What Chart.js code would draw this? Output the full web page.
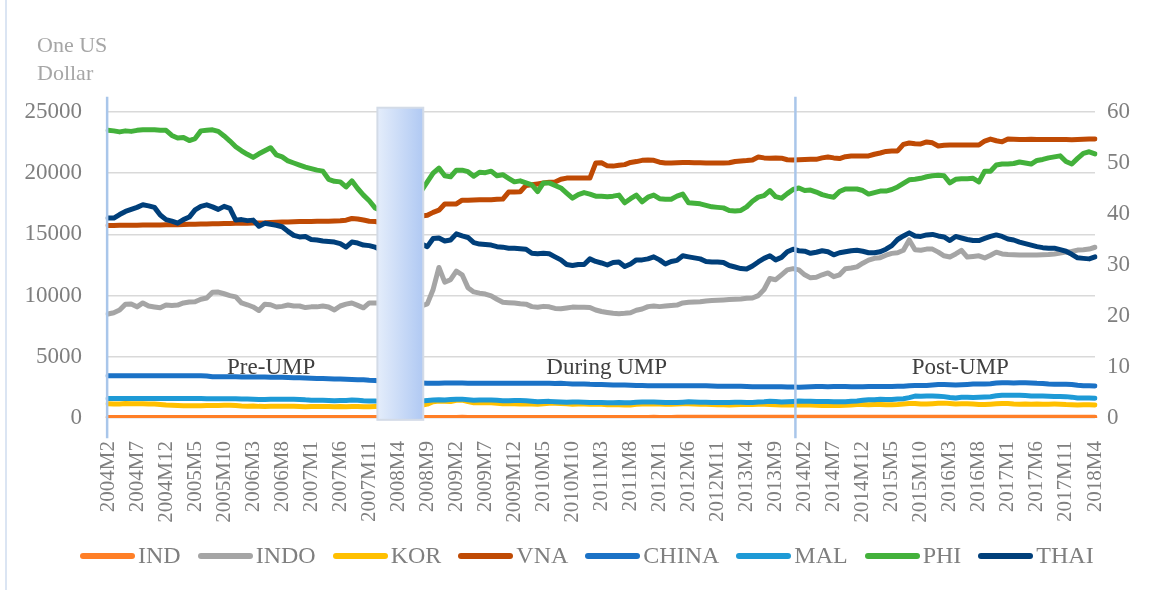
<!DOCTYPE html>
<html>
<head>
<meta charset="utf-8">
<script src="https://cdn.jsdelivr.net/npm/chart.js@4.4.1/dist/chart.umd.min.js"></script>
<style>
    body { margin: 0; background: #fff; }
    #wrap { position: relative; width: 1154px; height: 590px; overflow: hidden; }
    #frame { position: absolute; left: 5px; top: 0; width: 2px; height: 590px; background: #dbe5f3; }
    #unit { position: absolute; left: 37px; top: 31px; font: 22px "Liberation Serif", serif; line-height: 28px; color: #a6a6a6; }
    #legend { position: absolute; left: 80px; top: 542px; display: flex; align-items: center; font: 24px "Liberation Serif", serif; color: #7f7f7f; }
    .item { display: flex; align-items: center; margin-right: 17px; }
    .swatch { width: 55px; height: 6px; border-radius: 3px; margin-right: 3px; }
</style>
</head>
<body>
<div id="wrap">
    <canvas id="myChart" width="1154" height="590"></canvas>
    <div id="frame"></div>
    <div id="unit">One US<br>Dollar</div>
    <div id="legend"></div>
</div>
<script>
// months 2004M2 .. 2018M4
let months = [];
for (let y = 2004; y <= 2018; y++) {
    for (let m = 1; m <= 12; m++) {
        if ((y === 2004 && m < 2) || (y === 2018 && m > 4)) continue;
        months.push(y + 'M' + m);
    }
}

let leftTicks = [0, 5000, 10000, 15000, 20000, 25000];
let rightTicks = [0, 10, 20, 30, 40, 50, 60];

// left axis series
let IND = [
    45.4, 45.0, 43.8, 45.1, 45.5, 46.0, 46.3, 46.1, 45.8, 45.1, 43.7,
    43.6, 43.7, 43.7, 43.7, 43.5, 43.6, 43.5, 43.6, 43.9, 44.8, 45.7, 45.6,
    44.4, 44.3, 44.5, 44.9, 45.4, 46.0, 46.5, 46.5, 46.1, 45.5, 44.9, 44.5,
    44.3, 44.2, 44.0, 42.1, 40.8, 40.8, 40.4, 40.8, 40.0, 39.4, 39.4, 39.4,
    39.4, 39.7, 40.3, 40.0, 42.1, 42.8, 42.8, 42.9, 45.6, 48.7, 49.0, 48.6,
    48.8, 49.3, 51.2, 50.0, 48.5, 47.8, 48.5, 48.3, 48.4, 46.7, 46.6, 46.6,
    45.9, 46.3, 45.5, 44.5, 45.8, 46.6, 46.8, 46.6, 45.9, 44.4, 45.0, 45.2,
    45.4, 45.4, 44.9, 44.4, 44.9, 44.8, 44.4, 45.3, 47.6, 49.3, 50.8, 52.7,
    50.4, 49.2, 50.3, 51.8, 54.5, 56.0, 55.5, 55.6, 54.6, 53.0, 54.8, 54.6,
    54.0, 53.7, 54.4, 54.4, 54.9, 58.4, 60.0, 63.2, 63.4, 61.6, 62.6, 61.9,
    62.1, 62.3, 60.8, 60.4, 59.3, 59.7, 60.1, 60.9, 60.9, 61.3, 61.7, 62.7,
    62.2, 62.0, 62.4, 62.8, 63.8, 63.9, 63.6, 65.1, 66.2, 65.1, 66.1, 66.6,
    67.3, 68.2, 67.1, 66.5, 67.0, 67.3, 67.2, 66.9, 66.7, 66.7, 67.6, 67.9,
    68.1, 67.1, 65.9, 64.5, 64.4, 64.4, 64.4, 64.0, 64.4, 65.1, 64.9, 64.2,
    63.6, 64.4, 65.0, 65.6
];
let INDO = [
    8500, 8600, 8820, 9300, 9310, 9080, 9400, 9150, 9070, 9000, 9230,
    9200, 9230, 9400, 9480, 9500, 9700, 9800, 10280, 10290, 10150, 10000, 9900,
    9400, 9250, 9070, 8780, 9300, 9250, 9070, 9120, 9230, 9150, 9150, 9020,
    9080, 9080, 9150, 9070, 8830, 9150, 9300, 9400, 9200, 9000, 9400, 9400,
    9400, 9250, 9200, 9230, 9300, 9230, 9150, 9150, 9320, 10500, 12300, 11100,
    11300, 12000, 11700, 10650, 10300, 10200, 10130, 9980, 9700, 9450, 9420, 9400,
    9330, 9300, 9100, 9050, 9120, 9080, 8950, 8920, 8990, 9060, 9040, 9050,
    9030, 8820, 8700, 8620, 8550, 8520, 8550, 8600, 8800, 8900, 9100, 9150,
    9100, 9150, 9200, 9230, 9400, 9450, 9480, 9500, 9560, 9600, 9620, 9650,
    9680, 9700, 9730, 9780, 9800, 10000, 10500, 11400, 11300, 11700, 12100, 12200,
    12100, 11700, 11450, 11500, 11700, 11850, 11550, 11700, 12200, 12250, 12350, 12650,
    12900, 13050, 13100, 13300, 13450, 13500, 13700, 14550, 13750, 13700, 13800, 13800,
    13550, 13250, 13150, 13400, 13700, 13150, 13200, 13250, 13080, 13300, 13550, 13400,
    13350, 13330, 13320, 13320, 13320, 13320, 13330, 13350, 13400, 13480, 13550, 13600,
    13720, 13750, 13800, 13950
];
let KOR = [
    1170, 1150, 1150, 1175, 1160, 1170, 1160, 1150, 1140, 1100, 1055,
    1040, 1020, 1010, 1010, 1000, 1010, 1030, 1020, 1030, 1040, 1040, 1020,
    985, 970, 975, 950, 945, 960, 955, 960, 950, 950, 935, 925,
    935, 940, 945, 930, 925, 930, 920, 930, 935, 915, 915, 930,
    945, 945, 990, 985, 1040, 1030, 1020, 1040, 1130, 1330, 1390, 1360,
    1350, 1450, 1460, 1340, 1250, 1260, 1240, 1240, 1210, 1170, 1165, 1165,
    1140, 1160, 1135, 1115, 1165, 1210, 1200, 1180, 1160, 1125, 1140, 1140,
    1115, 1120, 1120, 1085, 1085, 1080, 1055, 1070, 1120, 1150, 1135, 1150,
    1145, 1125, 1130, 1135, 1155, 1165, 1145, 1130, 1125, 1105, 1085, 1075,
    1065, 1085, 1100, 1125, 1110, 1130, 1125, 1110, 1085, 1065, 1060, 1055,
    1070, 1070, 1070, 1045, 1025, 1020, 1020, 1020, 1035, 1060, 1095, 1105,
    1090, 1095, 1110, 1085, 1090, 1110, 1145, 1180, 1190, 1145, 1150, 1170,
    1200, 1215, 1180, 1145, 1165, 1165, 1140, 1110, 1110, 1130, 1160, 1185,
    1180, 1145, 1130, 1135, 1125, 1135, 1130, 1130, 1135, 1130, 1095, 1080,
    1065, 1075, 1075, 1065
];
let VNA = [
    15720, 15730, 15740, 15740, 15740, 15750, 15760, 15760, 15760, 15770, 15780,
    15780, 15790, 15810, 15820, 15830, 15840, 15850, 15870, 15880, 15890, 15900, 15910,
    15910, 15920, 15930, 15940, 15950, 15980, 16000, 16010, 16020, 16040, 16050, 16060,
    16060, 16070, 16070, 16080, 16100, 16120, 16160, 16300, 16260, 16180, 16080, 16050,
    15980, 15950, 15840, 15960, 16140, 16500, 16550, 16500, 16560, 16800, 16980, 17480,
    17480, 17490, 17800, 17800, 17820, 17830, 17840, 17840, 17870, 17890, 18460, 18470,
    18480, 19000, 19050, 19120, 19200, 19260, 19280, 19500, 19600, 19600, 19600, 19600,
    19600, 20830, 20850, 20600, 20580, 20650, 20700, 20880, 20950, 21050, 21080, 21050,
    20900, 20830, 20840, 20850, 20870, 20870, 20850, 20850, 20840, 20840, 20830, 20830,
    20850, 20960, 21000, 21030, 21080, 21320, 21250, 21230, 21240, 21230, 21100, 21080,
    21100, 21120, 21130, 21130, 21250, 21320, 21250, 21200, 21350, 21400, 21400, 21400,
    21410, 21550, 21650, 21780, 21810, 21820, 22350, 22470, 22400, 22390, 22550, 22480,
    22220, 22280, 22300, 22300, 22300, 22300, 22300, 22300, 22630, 22790, 22650, 22560,
    22790, 22780, 22760, 22760, 22770, 22760, 22760, 22750, 22750, 22750, 22750, 22740,
    22760, 22780, 22800, 22790
];

// right axis series
let CHINA = [
    8.28, 8.28, 8.28, 8.28, 8.28, 8.28, 8.28, 8.28, 8.28, 8.28, 8.28,
    8.28, 8.28, 8.28, 8.28, 8.28, 8.28, 8.23, 8.10, 8.09, 8.09, 8.08, 8.07,
    8.06, 8.05, 8.03, 8.02, 8.02, 8.00, 7.99, 7.97, 7.93, 7.90, 7.87, 7.82,
    7.79, 7.75, 7.74, 7.72, 7.67, 7.63, 7.58, 7.55, 7.51, 7.49, 7.41, 7.37,
    7.24, 7.16, 7.07, 7.00, 6.99, 6.90, 6.84, 6.85, 6.83, 6.83, 6.82, 6.85,
    6.84, 6.84, 6.84, 6.83, 6.83, 6.83, 6.83, 6.83, 6.83, 6.83, 6.83, 6.83,
    6.83, 6.83, 6.83, 6.83, 6.83, 6.81, 6.78, 6.79, 6.74, 6.67, 6.66, 6.66,
    6.60, 6.58, 6.57, 6.53, 6.49, 6.47, 6.45, 6.41, 6.38, 6.36, 6.34, 6.33,
    6.31, 6.30, 6.31, 6.30, 6.31, 6.33, 6.34, 6.34, 6.32, 6.27, 6.23, 6.23,
    6.22, 6.22, 6.21, 6.18, 6.14, 6.13, 6.13, 6.12, 6.12, 6.11, 6.09, 6.07,
    6.05, 6.09, 6.15, 6.16, 6.16, 6.15, 6.16, 6.16, 6.16, 6.15, 6.14, 6.12,
    6.16, 6.17, 6.19, 6.20, 6.20, 6.21, 6.21, 6.33, 6.37, 6.35, 6.37, 6.45,
    6.55, 6.55, 6.53, 6.47, 6.53, 6.59, 6.66, 6.66, 6.67, 6.73, 6.85, 6.92,
    6.90, 6.87, 6.89, 6.89, 6.88, 6.81, 6.77, 6.67, 6.64, 6.62, 6.62, 6.58,
    6.43, 6.32, 6.30, 6.28
];
let MAL = [
    3.80, 3.80, 3.80, 3.80, 3.80, 3.80, 3.80, 3.80, 3.80, 3.80, 3.80,
    3.80, 3.80, 3.80, 3.80, 3.80, 3.80, 3.78, 3.77, 3.77, 3.78, 3.78, 3.78,
    3.73, 3.71, 3.69, 3.63, 3.61, 3.67, 3.67, 3.67, 3.69, 3.68, 3.65, 3.56,
    3.50, 3.50, 3.48, 3.44, 3.40, 3.43, 3.45, 3.52, 3.47, 3.38, 3.35, 3.33,
    3.26, 3.21, 3.17, 3.16, 3.22, 3.26, 3.25, 3.35, 3.44, 3.54, 3.60, 3.55,
    3.62, 3.69, 3.70, 3.60, 3.50, 3.52, 3.54, 3.52, 3.48, 3.39, 3.38, 3.42,
    3.42, 3.40, 3.30, 3.20, 3.25, 3.26, 3.21, 3.14, 3.09, 3.12, 3.13, 3.11,
    3.05, 3.04, 3.04, 3.00, 3.01, 3.03, 2.99, 2.98, 3.10, 3.16, 3.15, 3.15,
    3.10, 3.02, 3.05, 3.05, 3.10, 3.17, 3.15, 3.10, 3.10, 3.05, 3.05, 3.05,
    3.04, 3.10, 3.10, 3.05, 3.03, 3.13, 3.18, 3.27, 3.25, 3.15, 3.20, 3.25,
    3.32, 3.30, 3.30, 3.25, 3.23, 3.23, 3.19, 3.17, 3.21, 3.27, 3.34, 3.47,
    3.58, 3.60, 3.67, 3.62, 3.62, 3.74, 3.79, 3.99, 4.30, 4.26, 4.30, 4.30,
    4.28, 4.19, 4.01, 3.92, 4.05, 4.09, 4.01, 4.05, 4.11, 4.18, 4.35, 4.48,
    4.46, 4.44, 4.45, 4.40, 4.33, 4.29, 4.29, 4.28, 4.22, 4.23, 4.19, 4.09,
    3.94, 3.91, 3.90, 3.89
];
let PHI = [
    56.4, 56.3, 56.1, 56.3, 56.2, 56.4, 56.5, 56.5, 56.5, 56.4, 56.4,
    55.4, 54.9, 55.0, 54.4, 54.8, 56.3, 56.4, 56.5, 56.2, 55.3, 54.3, 53.2,
    52.4, 51.7, 51.1, 51.8, 52.4, 53.0, 51.6, 51.2, 50.4, 50.0, 49.6, 49.2,
    48.9, 48.6, 48.4, 46.8, 46.4, 46.3, 45.3, 46.5, 45.0, 43.7, 42.6, 41.2,
    40.7, 40.6, 41.6, 42.3, 43.4, 44.5, 45.1, 44.6, 46.3, 48.0, 49.0, 47.5,
    47.3, 48.6, 48.6, 48.3, 47.4, 48.2, 48.1, 48.4, 47.5, 47.7, 47.0, 46.3,
    46.5, 46.1, 45.7, 44.4, 46.1, 46.1, 45.6, 45.1, 44.1, 43.1, 43.8, 44.2,
    43.9, 43.5, 43.5, 43.4, 43.5, 43.7, 42.2, 43.0, 43.7, 42.4, 43.3, 43.7,
    43.0, 42.9, 42.9, 43.5, 43.9, 42.2, 42.1, 42.0, 41.7, 41.4, 41.3, 41.2,
    40.7, 40.6, 40.7, 41.4, 42.5, 43.3, 43.6, 44.6, 43.4, 43.1, 44.0, 44.8,
    45.1, 44.6, 44.7, 44.3, 43.8, 43.5, 43.3, 44.4, 44.9, 44.9, 44.9, 44.6,
    43.9, 44.2, 44.5, 44.5, 44.8, 45.3, 46.0, 46.7, 46.8, 47.0, 47.3, 47.5,
    47.6, 47.5, 46.1, 46.8, 46.9, 46.9, 47.0, 46.3, 48.4, 48.4, 49.6, 49.8,
    49.8, 49.9, 50.2, 50.0, 49.8, 50.5, 50.7, 51.0, 51.2, 51.4, 50.3, 49.8,
    50.9, 51.9, 52.2, 51.8
];
let THAI = [
    39.2, 39.2, 39.9, 40.5, 40.9, 41.3, 41.8, 41.6, 41.3, 39.8, 38.9,
    38.6, 38.2, 38.9, 39.4, 40.8, 41.5, 41.8, 41.4, 40.9, 41.5, 41.1, 38.8,
    38.9, 38.7, 38.8, 37.6, 38.2, 38.0, 37.8, 37.5, 36.6, 35.8, 35.5, 35.6,
    35.0, 34.9, 34.7, 34.6, 34.5, 34.2, 33.5, 34.5, 34.3, 33.9, 33.8, 33.5,
    33.0, 32.3, 31.5, 31.6, 32.4, 33.6, 33.9, 34.1, 33.6, 35.2, 35.3, 34.7,
    34.9, 36.1, 35.7, 35.4, 34.4, 34.1, 34.0, 33.9, 33.6, 33.5, 33.3, 33.3,
    33.2, 33.1, 32.3, 32.2, 32.3, 32.2, 31.6, 31.0, 30.1, 29.9, 30.1, 30.1,
    31.2, 30.7, 30.4, 30.0, 30.5, 30.6, 29.7, 30.2, 31.0, 31.0, 31.2, 31.6,
    31.0, 30.2, 30.7, 30.9, 31.8, 31.6, 31.4, 31.2, 30.7, 30.6, 30.6, 30.5,
    29.9, 29.6, 29.3, 29.2, 29.8, 30.6, 31.3, 31.8, 31.0, 31.5, 32.6, 33.1,
    32.8, 32.7, 32.3, 32.5, 32.8, 32.6, 32.0, 32.4, 32.6, 32.8, 32.9, 32.7,
    32.4, 32.4, 32.6, 33.1, 33.8, 35.0, 35.7, 36.3, 35.7, 35.6, 35.9, 36.0,
    35.7, 35.5, 34.8, 35.6, 35.3, 35.0, 34.8, 34.8, 35.2, 35.6, 35.9, 35.6,
    35.1, 34.9, 34.5, 34.2, 33.9, 33.6, 33.4, 33.3, 33.3, 33.0, 32.7, 32.1,
    31.4, 31.3, 31.2, 31.6
];

// nom, données, couleur, axe, ordre de dessin (petit = dessus)
let seriesList = [
    ['IND', IND, '#ff7f27', 'y', 7],
    ['INDO', INDO, '#a5a5a5', 'y', 6],
    ['KOR', KOR, '#ffc000', 'y', 5],
    ['VNA', VNA, '#bf4a04', 'y', 4],
    ['CHINA', CHINA, '#1b72c6', 'y1', 3],
    ['MAL', MAL, '#1e9ad6', 'y1', 2],
    ['PHI', PHI, '#43b13b', 'y1', 1],
    ['THAI', THAI, '#003f7a', 'y1', 0]
];

// périodes (positions en index de mois / valeurs de l'axe gauche)
let periods = [
    { text: 'Pre-UMP', at: 28.1 },
    { text: 'During UMP', at: 85.9 },
    { text: 'Post-UMP', at: 146.8 }
];
let textLevel = 4100;
let splitLines = [-0.15, 118.4];
let shadeFrom = 46.4, shadeTo = 54.3;

let font = '"Liberation Serif", serif';

let periodPlugin = {
    id: 'periods',
    afterDatasetsDraw(chart) {
        let ctx = chart.ctx;
        let x = chart.scales.x, y = chart.scales.y;
        let step = x.getPixelForValue(1) - x.getPixelForValue(0);
        let px = idx => x.getPixelForValue(0) + step * idx;
        ctx.save();

        // bande 2008
        let x0 = px(shadeFrom), x1 = px(shadeTo);
        let top = y.getPixelForValue(25350), bottom = y.getPixelForValue(-150);
        let grad = ctx.createLinearGradient(x0, 0, x1, 0);
        grad.addColorStop(0, '#e4edfb');
        grad.addColorStop(1, '#b0c9f3');
        ctx.fillStyle = grad;
        ctx.fillRect(x0, top, x1 - x0, bottom - top);
        ctx.strokeStyle = '#d3dbe7';
        ctx.lineWidth = 2;
        ctx.strokeRect(x0, top, x1 - x0, bottom - top);

        // lignes verticales
        ctx.strokeStyle = '#a9c6ea';
        ctx.lineWidth = 2.5;
        splitLines.forEach(idx => {
            ctx.beginPath();
            ctx.moveTo(px(idx), y.getPixelForValue(26250));
            ctx.lineTo(px(idx), y.getPixelForValue(-1650));
            ctx.stroke();
        });

        // textes
        ctx.fillStyle = '#404040';
        ctx.font = '23px ' + font;
        ctx.textAlign = 'center';
        ctx.textBaseline = 'middle';
        periods.forEach(p => ctx.fillText(p.text, px(p.at), y.getPixelForValue(textLevel)));
        ctx.restore();
    }
};

let ctx = document.getElementById('myChart').getContext('2d');
let chart = new Chart(ctx, {
    type: 'line',
    data: {
        labels: months,
        datasets: seriesList.map(s => ({
            label: s[0],
            data: s[1],
            borderColor: s[2],
            backgroundColor: s[2],
            yAxisID: s[3],
            order: s[4],
            borderWidth: 5,
            pointRadius: 0,
            tension: 0,
            borderCapStyle: 'round',
            borderJoinStyle: 'round',
            fill: false
        }))
    },
    options: {
        responsive: false,
        animation: false,
        layout: { padding: { top: 112, left: 0, right: 0, bottom: 0 } },
        plugins: { legend: { display: false }, tooltip: { enabled: false } },
        scales: {
            x: {
                grid: { display: false },
                border: { display: false },
                ticks: {
                    autoSkip: false,
                    minRotation: 90,
                    maxRotation: 90,
                    padding: 15,
                    color: '#7f7f7f',
                    font: { family: font, size: 21 },
                    callback: (v, i) => i % 5 === 0 ? months[i] : null
                },
                afterFit: scale => { scale.height = 172; }
            },
            y: {
                position: 'left',
                min: leftTicks[0],
                max: leftTicks[leftTicks.length - 1],
                afterBuildTicks: scale => { scale.ticks = leftTicks.map(v => ({ value: v })); },
                grid: { color: '#d9d9d9', lineWidth: 1.5, drawTicks: false },
                border: { display: false },
                ticks: {
                    padding: 26, color: '#7f7f7f', font: { family: font, size: 23 },
                    callback: v => String(v)
                },
                afterFit: scale => { scale.width = 108; }
            },
            y1: {
                position: 'right',
                min: rightTicks[0],
                max: rightTicks[rightTicks.length - 1],
                afterBuildTicks: scale => { scale.ticks = rightTicks.map(v => ({ value: v })); },
                grid: { display: false, drawTicks: false },
                border: { display: false },
                ticks: {
                    padding: 12, color: '#7f7f7f', font: { family: font, size: 23 },
                    callback: v => String(v)
                },
                afterFit: scale => { scale.width = 59; }
            }
        }
    },
    plugins: [periodPlugin]
});

// légende
let legend = document.getElementById('legend');
seriesList.forEach(s => {
    let item = document.createElement('div');
    item.className = 'item';
    let sw = document.createElement('span');
    sw.className = 'swatch';
    sw.style.background = s[2];
    let label = document.createElement('span');
    label.textContent = s[0];
    item.appendChild(sw);
    item.appendChild(label);
    legend.appendChild(item);
});
</script>
</body>
</html>
